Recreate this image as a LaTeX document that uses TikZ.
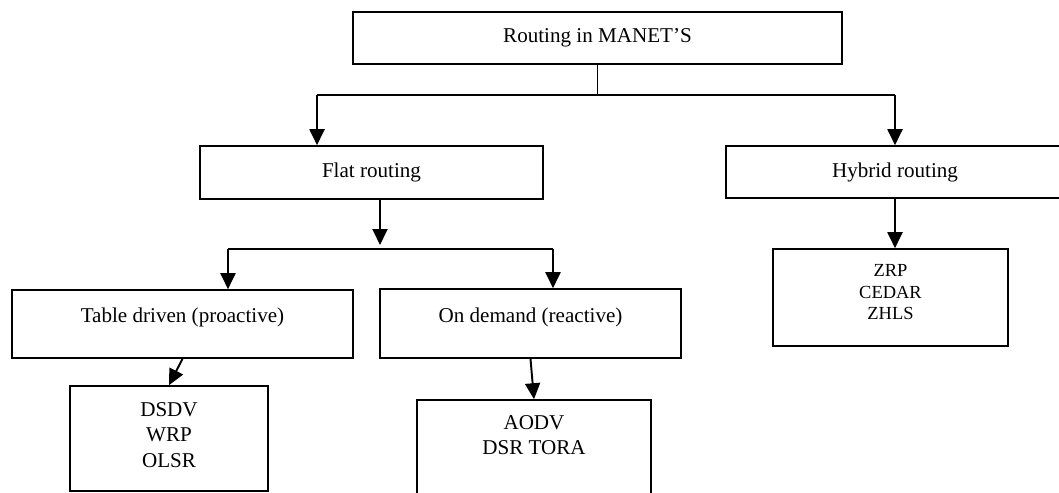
\documentclass[tikz,border=0pt]{standalone}
\usepackage{fontspec}
\setmainfont{Liberation Serif}
\usetikzlibrary{positioning,arrows.meta}

\begin{document}
\begin{tikzpicture}[x=0.02cm,y=-0.02cm,font=\fontsize{12}{14.5}\selectfont,
  box/.style={draw,line width=0.9pt,align=center,inner sep=0pt},
  link/.style={line width=0.7pt},
  arr/.style={line width=1.1pt,-{Triangle[length=0.32cm,width=0.3cm]}}]
  \useasboundingbox (0,0) rectangle (1059,493);
  % levels of the tree
  \node[box,minimum width=9.78cm,minimum height=1.04cm] (manet) at (597.5,38) {Routing in MANET'S};
  \node[box,minimum width=6.86cm,minimum height=1.06cm] (flat) at (371.5,172.5) {Flat routing};
  \node[box,minimum width=6.76cm,minimum height=1.04cm] (hybrid) at (895,172) {Hybrid routing};
  \node[box,minimum width=6.82cm,minimum height=1.36cm,text depth=10pt] (tab) at (182.5,324) {Table driven (proactive)};
  \node[box,minimum width=6.02cm,minimum height=1.38cm,text depth=10pt] (ond) at (530.5,323.5) {On demand (reactive)};
  \node[box,minimum width=3.96cm,minimum height=2.1cm,text depth=4.5pt] (dsdv) at (169,438.5) {DSDV\\WRP\\OLSR};
  \node[box,minimum width=4.68cm,minimum height=2.1cm,text depth=20pt] (aodv) at (534,452.5) {AODV\\DSR TORA};
  \node[box,minimum width=4.7cm,minimum height=1.94cm,text depth=6pt,
    font=\fontsize{10.5}{12.2}\selectfont] (zrp) at (890.5,297.5) {ZRP\\CEDAR\\ZHLS};
  % first split
  \coordinate (split) at (597.5,95);
  \coordinate (flatin) at ([xshift=-1.09cm]flat.north);
  \draw[link] (manet.south) -- (split);
  \draw[link] (flatin |- split) -- (hybrid.north |- split);
  \draw[arr] (flatin |- split) -- (flatin);
  \draw[arr] (hybrid.north |- split) -- (hybrid.north);
  % flat routing split
  \coordinate (flatout) at ([xshift=0.17cm]flat.south);
  \coordinate (bar) at (380,249);
  \coordinate (tabin) at ([xshift=0.91cm]tab.north);
  \coordinate (ondin) at ([xshift=0.45cm]ond.north);
  \draw[arr] (flatout) -- ([yshift=0.08cm]bar);
  \draw[link] (tabin |- bar) -- (ondin |- bar);
  \draw[arr] (tabin |- bar) -- (tabin);
  \draw[arr] (ondin |- bar) -- (ondin);
  % leaves
  \draw[arr] (tab.south) -- (dsdv.north);
  \draw[arr] (ond.south) -- (aodv.north);
  \draw[arr] (hybrid.south) -- (hybrid.south |- zrp.north);
\end{tikzpicture}
\end{document}
